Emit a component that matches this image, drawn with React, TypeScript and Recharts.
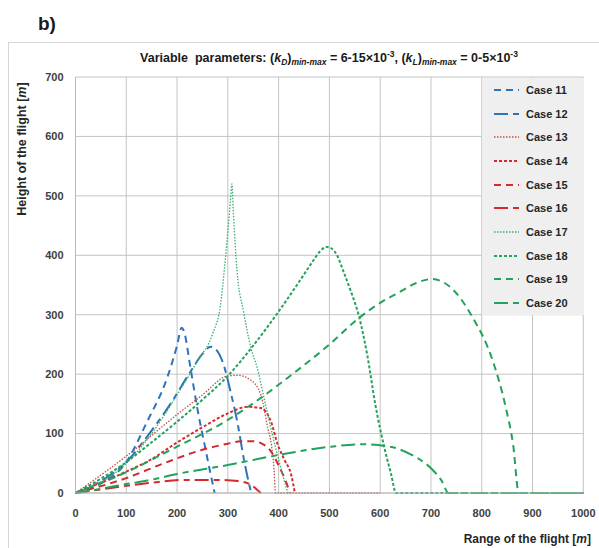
import { LineChart, Line, XAxis, YAxis, CartesianGrid, Legend } from 'recharts';

type Pt = [number, number];

// trajectories: [range m, height m]
const case11: Pt[] = [[0, 0], [50, 16], [100, 52], [141, 120], [181, 195], [200, 248], [209, 278], [215, 268], [225, 218], [240, 142], [255, 78], [266, 32], [274, 0]];
const case12: Pt[] = [[0, 0], [50, 20], [100, 52], [141, 95], [187, 150], [227, 205], [250, 234], [266, 246], [280, 238], [292, 215], [306, 168], [319, 118], [332, 55], [340, 22], [346, 0]];
const case13: Pt[] = [[0, 0], [100, 62], [200, 132], [250, 165], [300, 197], [320, 198], [345, 190], [365, 165], [379, 108], [386, 80], [391, 40], [394, 0], [600, 0]];
const case14: Pt[] = [[0, 0], [100, 36], [148, 56], [200, 85], [253, 112], [300, 134], [339, 145], [365, 143], [385, 120], [398, 82], [412, 55], [425, 30], [432, 0]];
const case15: Pt[] = [[0, 0], [100, 25], [174, 50], [247, 72], [300, 83], [326, 87], [350, 87], [365, 84], [385, 70], [398, 50], [410, 28], [418, 11], [422, 0]];
const case16: Pt[] = [[0, 0], [50, 6], [100, 12], [148, 17], [213, 22], [280, 22], [320, 20], [345, 14], [357, 6], [365, 0]];
const case17: Pt[] = [[0, 0], [100, 50], [150, 100], [200, 165], [240, 222], [270, 268], [286, 319], [293, 375], [300, 440], [305, 490], [308, 520], [311, 470], [318, 375], [331, 305], [345, 246], [359, 207], [372, 157], [390, 90], [405, 40], [418, 0]];
const case18: Pt[] = [[0, 0], [100, 52], [148, 84], [200, 120], [250, 157], [300, 197], [350, 248], [398, 303], [440, 355], [465, 387], [482, 407], [494, 414], [505, 411], [515, 400], [528, 372], [542, 340], [559, 295], [575, 230], [590, 151], [610, 70], [622, 30], [631, 0], [1000, 0]];
const case19: Pt[] = [[0, 0], [100, 35], [200, 78], [300, 123], [365, 160], [412, 190], [500, 250], [559, 295], [600, 320], [636, 337], [670, 353], [702, 360], [740, 345], [781, 297], [821, 224], [847, 145], [862, 80], [873, 0], [1000, 0]];
const case20: Pt[] = [[0, 0], [50, 7], [100, 15], [148, 22], [200, 32], [300, 47], [400, 64], [504, 78], [565, 82], [619, 78], [660, 65], [702, 40], [720, 22], [735, 0], [1000, 0]];

const xTicks = [0, 100, 200, 300, 400, 500, 600, 700, 800, 900, 1000];
const yTicks = [0, 100, 200, 300, 400, 500, 600, 700];

const BLUE = '#2e75b6';
const RED = '#d42a2f';
const GREEN = '#22a25a';
const FONT = "'Liberation Sans', Arial, sans-serif";

const cases = [
  { name: 'Case 11', points: case11, color: BLUE, dash: '7 5', width: 2 },
  { name: 'Case 12', points: case12, color: BLUE, dash: '14 5 6 5', width: 2 },
  { name: 'Case 13', points: case13, color: '#c0504d', dash: '1.5 1.5', width: 1.3 },
  { name: 'Case 14', points: case14, color: RED, dash: '3 2', width: 2 },
  { name: 'Case 15', points: case15, color: RED, dash: '7 5', width: 2 },
  { name: 'Case 16', points: case16, color: RED, dash: '14 5 6 5', width: 2 },
  { name: 'Case 17', points: case17, color: '#3aae6e', dash: '1.5 1.5', width: 1.3 },
  { name: 'Case 18', points: case18, color: GREEN, dash: '3 2', width: 2 },
  { name: 'Case 19', points: case19, color: GREEN, dash: '7 5', width: 2 },
  { name: 'Case 20', points: case20, color: GREEN, dash: '14 5 6 5', width: 2 },
];

const toData = (points: Pt[]) => points.map(([x, y]) => ({ x, y }));

const tickStyle = { fontSize: 11, fontWeight: 700, fill: '#404040', fontFamily: FONT };

function CaseLegend() {
  return (
    <div style={{ background: '#efefef', width: 102, fontFamily: FONT }}>
      {cases.map((c) => (
        <div key={c.name} style={{ height: 23.7, display: 'flex', alignItems: 'center' }}>
          <svg width={44} height={10} style={{ display: 'block' }}>
            <line x1={12} y1={5} x2={37} y2={5} stroke={c.color} strokeWidth={c.width} strokeDasharray={c.dash} />
          </svg>
          <span style={{ fontSize: 11, fontWeight: 700, color: '#262626' }}>{c.name}</span>
        </div>
      ))}
    </div>
  );
}

function YTitle() {
  return (
    <text x={22} y={149} transform="rotate(-90, 22, 149)" textAnchor="middle" dominantBaseline="central"
      fontSize={12.5} fontWeight={700} fill="#262626" fontFamily={FONT}>
      Height of the flight [<tspan fontStyle="italic">m</tspan>]
    </text>
  );
}

function XTitle() {
  return (
    <text x={591} y={539} textAnchor="end" dominantBaseline="central"
      fontSize={12} fontWeight={700} fill="#262626" fontFamily={FONT}>
      Range of the flight [<tspan fontStyle="italic">m</tspan>]
    </text>
  );
}

export default function App() {
  const sub = { fontSize: 8.5, lineHeight: 0, verticalAlign: '-3px' } as const;
  const sup = { fontSize: 8.5, lineHeight: 0, verticalAlign: '5px' } as const;
  return (
    <div style={{ position: 'absolute', left: 0, top: 0, width: 599, height: 548, background: '#fff', overflow: 'hidden' }}>
      <div style={{ position: 'absolute', left: 38, top: 13, fontFamily: FONT, fontWeight: 700, fontSize: 19, color: '#1a1a1a' }}>
        b)
      </div>
      <div style={{ position: 'absolute', left: 8, top: 42, width: 620, height: 540, border: '1px solid #d6d6d6' }} />
      <div style={{ position: 'absolute', left: 0, top: 50, width: 658, textAlign: 'center', fontFamily: FONT, fontWeight: 700, fontSize: 12.5, color: '#1a1a1a', lineHeight: '16px', whiteSpace: 'nowrap' }}>
        Variable&nbsp; parameters: (<i>k</i><span style={sub}><i>D</i></span>)<span style={sub}><i>min-max</i></span> = 6-15×10<span style={sup}>-3</span>, (<i>k</i><span style={sub}><i>L</i></span>)<span style={sub}><i>min-max</i></span> = 0-5×10<span style={sup}>-3</span>
      </div>
      <div style={{ position: 'absolute', left: 0, top: 0 }}>
        <LineChart width={599} height={548} margin={{ top: 77, right: 15.7, left: 15.5, bottom: 25 }}>
          <CartesianGrid stroke="#c4c4c4" strokeWidth={1} />
          <XAxis
            type="number"
            dataKey="x"
            domain={[0, 1000]}
            ticks={xTicks}
            height={30}
            tick={tickStyle}
            tickSize={0}
            tickMargin={16}
            axisLine={{ stroke: '#b8b8b8' }}
            tickLine={false}
            label={<XTitle />}
          />
          <YAxis
            type="number"
            dataKey="y"
            domain={[0, 700]}
            ticks={yTicks}
            width={60}
            tick={tickStyle}
            tickSize={0}
            tickMargin={12}
            axisLine={{ stroke: '#b8b8b8' }}
            tickLine={false}
            label={<YTitle />}
          />
          <Legend
            layout="vertical"
            align="center"
            verticalAlign="middle"
            content={<CaseLegend />}
            wrapperStyle={{ position: 'absolute', top: 78, left: 482, width: 102 }}
          />
          {cases.map((c) => (
            <Line
              key={c.name}
              name={c.name}
              data={toData(c.points)}
              dataKey="y"
              type="monotone"
              stroke={c.color}
              strokeWidth={c.width}
              strokeDasharray={c.dash}
              dot={false}
              activeDot={false}
              isAnimationActive={false}
            />
          ))}
        </LineChart>
      </div>
    </div>
  );
}
